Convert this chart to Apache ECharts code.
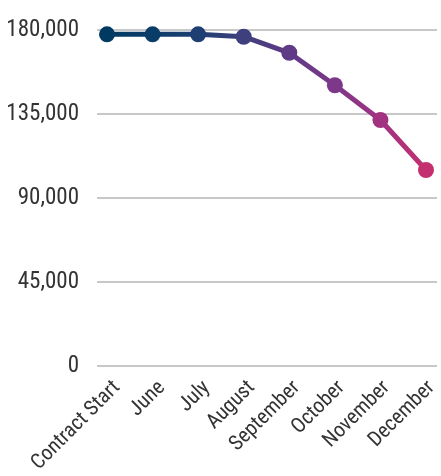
<!DOCTYPE html>
<html><head><meta charset="utf-8">
<script src="https://cdn.jsdelivr.net/npm/echarts@6/dist/echarts.min.js"></script>
<style>html,body{margin:0;padding:0;background:#fff}#c{width:441px;height:476px}</style>
</head><body><div id="c"></div>
<script>
const categories = ['Contract Start','June','July','August','September','October','November','December'];
const values = [177700, 177700, 177700, 176400, 167800, 150400, 131800, 105000];
const pointColors = ['#003a63','#0a3c68','#1f3f73','#3e3f7d','#5f3a86','#7e3889','#a23381','#c4306f'];
const yTicks = [0, 45000, 90000, 135000, 180000];

const FONT = '"Roboto Condensed", "Roboto", sans-serif';
const chart = echarts.init(document.getElementById('c'));
const stops = pointColors.map((c,i)=>({offset:i/(pointColors.length-1), color:c}));
chart.setOption({
  animation:false,
  grid:[
    {left:97, right:4, top:30, bottom:110},
    {left:107, right:15, top:30, bottom:110},
    {left:117, right:5, top:30, bottom:110}
  ],
  xAxis:[
    {gridIndex:0, type:'value', min:0, max:1, show:false},
    {gridIndex:1, type:'category', data:categories, boundaryGap:false, show:false},
    {gridIndex:2, type:'category', data:categories, boundaryGap:false,
     axisLine:{show:false}, axisTick:{show:false},
     axisLabel:{rotate:45, margin:21, interval:0, fontFamily:FONT, fontSize:21, color:'#333333'}}
  ],
  yAxis:[
    {gridIndex:0, type:'value', min:yTicks[0], max:yTicks[yTicks.length-1], interval:45000,
     axisLine:{show:false}, axisTick:{show:false},
     splitLine:{lineStyle:{color:'#c8c8c8', width:2}},
     axisLabel:{margin:18, fontFamily:FONT, fontSize:23, color:'#333333',
       formatter:v=>v.toLocaleString('en-US')}},
    {gridIndex:1, type:'value', min:0, max:180000, show:false},
    {gridIndex:2, type:'value', min:0, max:180000, show:false}
  ],
  series:[{
    type:'line', xAxisIndex:1, yAxisIndex:1,
    data: values.map((v,i)=>({value:v, itemStyle:{color:pointColors[i]}})),
    symbol:'circle', symbolSize:16,
    lineStyle:{width:5, color:new echarts.graphic.LinearGradient(0,0,1,0,stops)},
    z:3
  }]
});
</script></body></html>
